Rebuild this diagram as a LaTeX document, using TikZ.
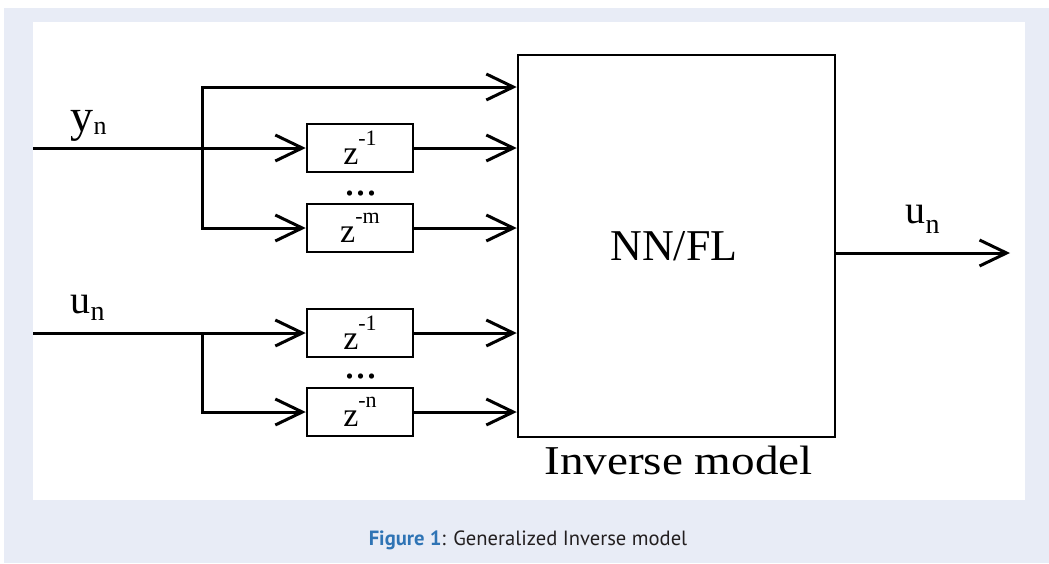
\documentclass[tikz,border=0pt]{standalone}
\usepackage{fontspec}
\setmainfont{Liberation Serif}
\newfontfamily\capfont{PT Sans}
\usetikzlibrary{arrows.meta}
\definecolor{pagebg}{HTML}{E8ECF6}
\definecolor{figblue}{HTML}{2F74B5}
\definecolor{captext}{HTML}{231F20}
\newcommand{\fsz}[1]{\fontsize{#1}{#1}\selectfont}

\begin{document}
\begin{tikzpicture}[x=1pt,y=-1pt,
  line width=3pt,
  arr/.style={-{Straight Barb[length=27pt,width=26pt]}},
  biarr/.style={{Straight Barb[length=27pt,width=26pt]}-{Straight Barb[length=27pt,width=26pt]}},
  delay/.style={draw, line width=2.5pt, minimum width=106pt, minimum height=48pt, inner sep=0pt},
  lbl/.style={inner sep=0pt, anchor=base west},
  dots/.style={inner sep=0pt, anchor=base, font=\fsz{44}}]

  \useasboundingbox (0,0) rectangle (1049,563);
  % page and figure panel
  \fill[pagebg] (4,8) rectangle (1049,563);
  \fill[white] (33,22) rectangle (1025,500);

  % inverse model block
  \node[draw, line width=2.5pt, minimum width=317pt, minimum height=382pt] (main) at (676.5,246) {};
  \node[anchor=base, inner sep=0pt, font=\fsz{44}] (nnfl) at (674,260) {NN/FL};
  \node[anchor=base, inner sep=0pt] (inv) at (678.5,474) {\scalebox{1.15}[1]{\fsz{41}Inverse model}};

  % delay elements
  \node[delay] (d1) at (360,148) {\fsz{34}z\raisebox{19pt}{\fsz{22}-1}};
  \node[delay] (d2) at (360,228) {\fsz{34}z\raisebox{19pt}{\fsz{22}-m}};
  \node[delay] (d3) at (360,333) {\fsz{34}z\raisebox{19pt}{\fsz{22}-1}};
  \node[delay] (d4) at (360,412) {\fsz{34}z\raisebox{19pt}{\fsz{22}-n}};
  \node[dots] (dt1) at (361,195) {...};
  \node[dots] (dt2) at (361,378) {...};

  % signal labels
  \node[lbl] (ylab) at (69,131) {\fsz{46}y\raisebox{-3pt}{\fsz{26}n}};
  \node[lbl] (ulab) at (69,313) {\fsz{40}u\raisebox{-7pt}{\fsz{28}n}};
  \node[lbl] (uout) at (904,223) {\fsz{40}u\raisebox{-10pt}{\fsz{28}n}};

  % junction points
  \coordinate (yin) at (33,148);
  \coordinate (yb) at (202,148);
  \coordinate (yt) at (202,87);
  \coordinate (uin) at (33,333);
  \coordinate (ub) at (202,333);
  \coordinate (out) at (1010,253);

  % y_n branch
  \draw[arr] (yin) -- (d1);
  \draw[biarr] (yt -| main.west) -- (yt) -- (yb |- d2) -- (d2);
  \draw[arr] (d1) -- (d1 -| main.west);
  \draw[arr] (d2) -- (d2 -| main.west);

  % u_n branch
  \draw[arr] (uin) -- (d3);
  \draw[arr] (ub) -- (ub |- d4) -- (d4);
  \draw[arr] (d3) -- (d3 -| main.west);
  \draw[arr] (d4) -- (d4 -| main.west);

  % output
  \draw[arr] (main.east |- out) -- (out);

  % caption
  \node[anchor=base, inner sep=0pt, font=\capfont\fsz{20.6}, text=captext] (cap) at (528,545)
    {\textcolor{figblue}{\bfseries Figure 1}: Generalized Inverse model};
\end{tikzpicture}
\end{document}
